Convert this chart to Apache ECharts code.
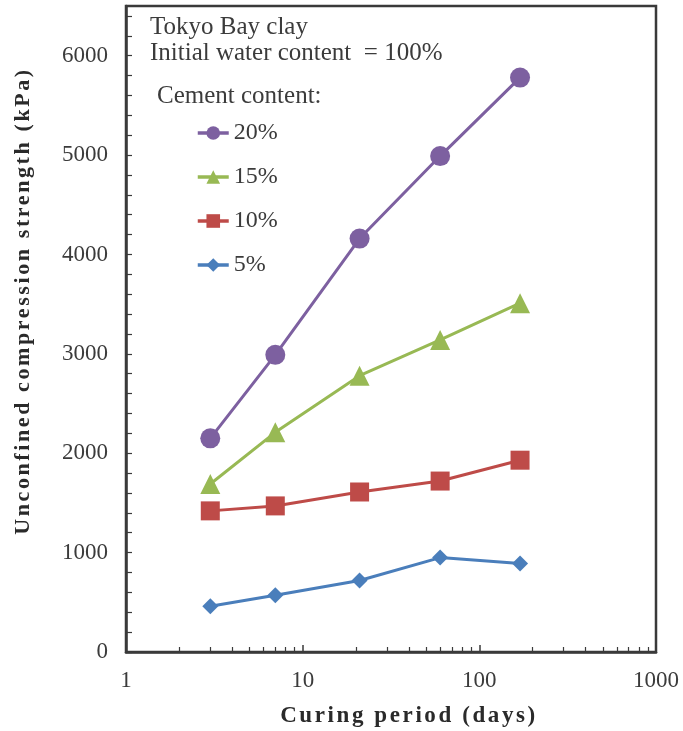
<!DOCTYPE html>
<html><head><meta charset="utf-8">
<script src="https://cdn.jsdelivr.net/npm/echarts@6/dist/echarts.min.js"></script>
<style>
html,body{margin:0;padding:0;background:#fff}
#c{width:683px;height:731px}
</style>
</head><body><div id="c"></div>
<script>
const days = [3, 7, 21, 60, 170];
const s20 = [2150, 2990, 4160, 4990, 5780];
const s15 = [1690, 2210, 2780, 3140, 3510];
const s10 = [1420, 1470, 1610, 1720, 1930];
const s5  = [460, 570, 720, 950, 890];
const seriesNames = ['20%', '15%', '10%', '5%'];
const xMajor = [1, 10, 100, 1000];
const xMinor = [2,3,4,5,6,7,8,9,20,30,40,50,60,70,80,90,200,300,400,500,600,700,800,900];
const yLabels = [0, 1000, 2000, 3000, 4000, 5000, 6000];
const yTicks = [0,200,400,600,800,1000,1200,1400,1600,1800,2000,2200,2400,2600,2800,3000,3200,3400,3600,3800,4000,4200,4400,4600,4800,5000,5200,5400,5600,5800,6000,6200,6400];

// wider tracking for the bold axis titles, as in the original figure
(function () {
  const proto = CanvasRenderingContext2D.prototype;
  const orig = proto.fillText;
  proto.fillText = function (t, x, y, m) {
    if ('letterSpacing' in this) this.letterSpacing = /bold/.test(this.font) ? '2.6px' : '0px';
    return m === undefined ? orig.call(this, t, x, y) : orig.call(this, t, x, y, m);
  };
})();

const FONT = "'Liberation Serif', serif";
const TXT = '#3b3b3b';
const pair = ys => days.map((d, i) => [d, ys[i]]);
const plain = v => String(v);

const chart = echarts.init(document.getElementById('c'), null, {renderer: 'canvas'});
const axisLineStyle = {color: '#3a3a3a', width: 2.5};
chart.setOption({
  animation: false,
  backgroundColor: '#fff',
  grid: {left: 126, right: 27, top: 6, bottom: 79, show: true, borderColor: '#3a3a3a', borderWidth: 2.5,
         outerBoundsMode: 'none', containLabel: false},
  title: [
    {text: 'Tokyo Bay clay\nInitial water content  = 100%', left: 150, top: 14, padding: 0,
     textStyle: {fontFamily: FONT, fontSize: 25, fontWeight: 'normal', color: TXT, lineHeight: 26}},
    {text: 'Cement content:', left: 157, top: 82, padding: 0,
     textStyle: {fontFamily: FONT, fontSize: 25, fontWeight: 'normal', color: TXT, lineHeight: 28}}
  ],
  legend: {
    data: seriesNames, orient: 'vertical', left: 196, top: 121, padding: 0,
    itemWidth: 31, itemHeight: 17, itemGap: 20,
    lineStyle: {width: 3.5},
    textStyle: {fontFamily: FONT, fontSize: 24, color: TXT, lineHeight: 24}
  },
  xAxis: [
    {type: 'log', logBase: 10, min: 1, max: 1000, gridIndex: 0,
     name: 'Curing period (days)', nameLocation: 'middle', nameGap: 53,
     nameTextStyle: {fontFamily: FONT, fontSize: 23, fontWeight: 'bold', color: '#2a2a2a', padding: [0, 0, 0, 36]},
     axisLine: {lineStyle: axisLineStyle},
     axisTick: {inside: true, length: 7, customValues: xMajor, lineStyle: {color: '#3a3a3a', width: 1.5}},
     axisLabel: {customValues: xMajor, formatter: plain, fontFamily: FONT, fontSize: 23, color: TXT, margin: 17},
     splitLine: {show: false}, minorTick: {show: false}},
    {type: 'log', logBase: 10, min: 1, max: 1000, gridIndex: 0, position: 'bottom',
     axisLine: {show: false},
     axisTick: {inside: true, length: 5, customValues: xMinor, lineStyle: {color: '#3a3a3a', width: 1.2}},
     axisLabel: {show: false}, splitLine: {show: false}}
  ],
  yAxis: {
    type: 'value', min: 0, max: 6500, interval: 1000,
    name: 'Unconfined compression strength (kPa)', nameLocation: 'middle', nameGap: 92,
    nameTextStyle: {fontFamily: FONT, fontSize: 22, fontWeight: 'bold', color: '#2a2a2a', padding: [0, 0, 0, 56]},
    axisLine: {show: true, lineStyle: axisLineStyle},
    axisTick: {show: true, inside: true, length: 6, customValues: yTicks, lineStyle: {color: '#3a3a3a', width: 1.2}},
    axisLabel: {customValues: yLabels, formatter: plain, fontFamily: FONT, fontSize: 23, color: TXT, margin: 18},
    splitLine: {show: false}
  },
  series: [
    {name: '5%', type: 'line', data: pair(s5), symbol: 'diamond', symbolSize: 16,
     itemStyle: {color: '#4a7ebb'}, lineStyle: {width: 3, color: '#4a7ebb'}},
    {name: '10%', type: 'line', data: pair(s10), symbol: 'rect', symbolSize: 19,
     itemStyle: {color: '#be4b48'}, lineStyle: {width: 3, color: '#be4b48'}},
    {name: '15%', type: 'line', data: pair(s15), symbol: 'triangle', symbolSize: 20,
     itemStyle: {color: '#98b954'}, lineStyle: {width: 3, color: '#98b954'}},
    {name: '20%', type: 'line', data: pair(s20), symbol: 'circle', symbolSize: 20,
     itemStyle: {color: '#7d60a0'}, lineStyle: {width: 3, color: '#7d60a0'}}
  ]
});
</script></body></html>
